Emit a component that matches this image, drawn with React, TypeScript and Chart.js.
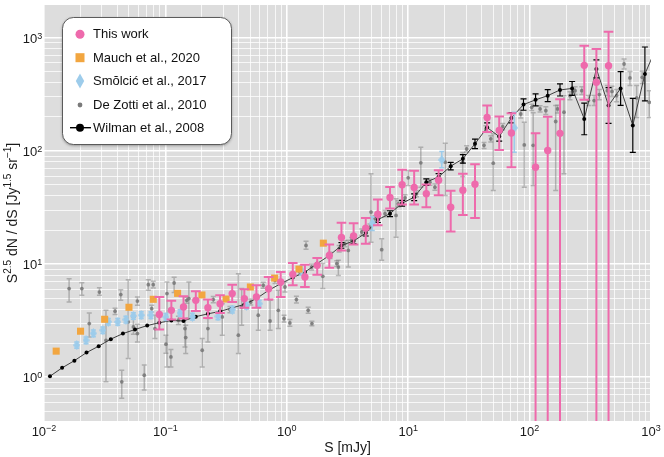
import React, { useRef, useEffect } from 'react';
import { Chart, registerables } from 'chart.js';
import type { ChartConfiguration, Plugin } from 'chart.js';

Chart.register(...registerables);

// axis ranges and ticks
const xMin = 0.01;
const xMax = 1000;
const yMin = 0.41;
const yMax = 1950;
const xDecades = [-2, -1, 0, 1, 2, 3];
const xTickExponents = ['\u22122', '\u22121', '0', '1', '2', '3'];
const yDecades = [0, 1, 2, 3];
const yTickExponents = ['0', '1', '2', '3'];
const minorSteps = [1, 2, 3, 4, 5, 6, 7, 8, 9];

// This work
const thisS = [0.0891, 0.112, 0.141, 0.178, 0.224, 0.282, 0.355, 0.447, 0.562, 0.708, 0.891, 1.12, 1.41, 1.78, 2.24, 2.82, 3.55, 4.47, 5.62, 7.08, 8.91, 11.2, 14.1, 17.8, 22.4, 28.2, 35.5, 44.7, 56.2, 70.8, 112, 141, 178, 282, 355, 447];
const thisN = [3.58, 3.9, 4.17, 4.78, 4.12, 4.47, 5.48, 4.95, 5.11, 6.06, 6.94, 8.11, 7.68, 9.74, 11.9, 17.2, 17.7, 20.8, 27.6, 38.8, 50.2, 47.5, 41.8, 55.1, 31.8, 45.0, 50.8, 198, 152, 144, 71.8, 101, 143, 571, 404, 567];
const thisLo = [2.64, 3.23, 3.3, 3.85, 3.34, 3.69, 4.62, 4.12, 4.12, 4.85, 5.11, 6.49, 6.27, 8.06, 9.29, 13.2, 14.9, 15.1, 22.0, 31.0, 33.6, 33.6, 31.8, 40.6, 19.4, 27.1, 25.5, 147, 102, 71.8, 0.01, 0.01, 0.01, 284, 0.01, 0.01];
const thisHi = [5.11, 4.75, 5.19, 5.74, 4.85, 5.29, 6.58, 5.98, 6.49, 7.68, 8.5, 10.2, 9.88, 11.3, 14.9, 23.2, 23.0, 25.5, 37.2, 48.0, 68.1, 66.7, 50.5, 67.6, 44.5, 62.8, 76.3, 252, 202, 215, 143, 201, 286, 851, 796, 1132];

// Mauch et al., 2020
const mauchS = [0.0126, 0.02, 0.0316, 0.0501, 0.0794, 0.126, 0.2, 0.316, 0.501, 0.794, 1.26, 2.0];
const mauchN = [1.7, 2.55, 3.25, 4.15, 4.88, 5.51, 5.33, 4.91, 6.27, 7.52, 9.03, 15.3];

// Smolcic et al., 2017
const smolS = [0.0186, 0.0222, 0.0255, 0.0305, 0.0339, 0.0405, 0.0473, 0.0545, 0.0632, 0.076, 0.101, 0.132, 0.167, 0.271, 0.356, 0.466, 0.593, 1.32, 5.06, 18.9, 74.8];
const smolN = [1.92, 2.12, 2.44, 2.6, 3.09, 3.08, 3.23, 3.48, 3.53, 3.53, 3.41, 3.69, 3.43, 3.45, 3.96, 4.28, 4.47, 8.8, 23.0, 83.4, 160];
const smolLo = [1.8, 1.98, 2.28, 2.43, 2.89, 2.88, 3.02, 3.25, 3.3, 3.3, 3.19, 3.45, 3.21, 3.22, 3.7, 4.0, 4.18, 8.0, 19.8, 71.0, 97.5];
const smolHi = [2.05, 2.27, 2.61, 2.78, 3.31, 3.3, 3.46, 3.72, 3.78, 3.78, 3.65, 3.95, 3.67, 3.69, 4.24, 4.58, 4.78, 9.7, 26.0, 98.8, 220];

// De Zotti et al., 2010
const dzS = [0.0161, 0.0205, 0.0286, 0.0236, 0.0324, 0.0429, 0.0385, 0.0494, 0.0437, 0.0545,
  0.0588, 0.0588, 0.067, 0.0723, 0.0794, 0.0771, 0.082, 0.103, 0.101, 0.111,
  0.118, 0.128, 0.147, 0.201, 0.145, 0.156, 0.224, 0.294, 0.399, 0.425,
  0.582, 0.728, 0.851, 0.949, 1.06, 1.2, 1.44, 1.98, 2.66, 3.21,
  0.966, 4.94, 6.05, 7.94, 10.0, 12.7, 20.2, 28.1,
  42.1, 43.7, 47.9, 50.2, 60.0, 84.5, 90.4, 104, 122, 136,
  164, 170, 192, 215, 237, 269, 305, 340, 375, 437,
  477, 521, 600, 671, 762, 847, 968,
  2.7, 3.01, 3.43, 4.14, 4.84, 5.33, 6.44, 8.28, 9.42, 11.7, 15.1, 16.6, 30.3,
  0.64, 0.8, 1.28, 1.6, 2.27, 2.58,
  0.15, 0.248, 0.34, 0.505, 1.5, 1.61, 107];
const dzN = [6.07, 6.07, 5.66, 2.98, 2.12, 5.37, 3.83, 3.08, 0.91, 2.78,
  2.43, 4.71, 1.04, 6.58, 6.58, 4.04, 2.69, 5.48, 1.96, 1.51,
  6.8, 3.19, 2.24, 1.73, 2.69, 4.95, 2.69, 3.41, 2.35, 4.17,
  3.53, 3.14, 3.9, 3.3, 3.02, 4.85, 14.6, 7.79, 9.41, 13.2,
  6.27, 28.8, 13.4, 26.9, 57.9, 78.5, 79.5, 79.5,
  112, 157, 128, 77.9, 164, 212, 113, 243, 235, 227,
  182, 235, 220, 308, 341, 341, 279, 279, 315, 341,
  336, 308, 587, 442, 294, 447, 269,
  13.7, 15.1, 16.2, 19.2, 21.2, 25.2, 27.9, 34.1, 38.5, 41.8, 52.9, 47.8, 104,
  6.49, 7.18, 8.5, 9.41, 11.9, 10.1,
  4.78, 4.85, 3.96, 4.62, 3.9, 2.98, 112];
const dzLo = [4.62, 5.29, 5.29, 2.27, 0.91, 4.78, 3.58, 1.46, 0.65, 2.4,
  2.05, 4.32, 0.77, 5.86, 6.15, 3.77, 2.2, 1.23, 1.63, 1.23,
  5.62, 2.93, 1.62, 1.23, 1.85, 3.32, 2.05, 2.35, 1.62, 2.88,
  2.6, 2.6, 2.69, 3.08, 2.82, 4.53, 13.5, 6.07, 7.94, 9.41,
  5.67, 15.6, 10.8, 17.3, 49.5, 47.8, 40.4, 59.4,
  105, 147, 120, 44.7, 154, 196, 47.8, 228, 221, 210,
  44.7, 217, 62.8, 284, 315, 315, 252, 252, 284, 308,
  303, 272, 531, 378, 198, 395, 198,
  12.8, 14.2, 15.2, 18.0, 19.9, 23.6, 26.2, 32.0, 36.2, 39.3, 49.7, 44.9, 98,
  6.1, 6.75, 8.0, 8.85, 11.2, 9.5,
  4.5, 4.56, 3.72, 4.34, 3.67, 2.85, 49.5];
const dzHi = [7.43, 6.85, 6.19, 3.69, 3.9, 5.94, 4.07, 7.28, 1.15, 3.39,
  2.94, 5.11, 1.28, 7.28, 7.04, 4.32, 3.53, 6.94, 2.35, 1.76,
  7.63, 3.45, 2.88, 2.2, 3.3, 6.94, 3.3, 4.47, 8.23, 6.07,
  4.32, 4.78, 5.86, 3.53, 3.23, 5.19, 15.9, 10.1, 10.8, 16.2,
  6.93, 62.8, 16.7, 37.8, 67.1, 108, 117, 96.8,
  119, 167, 136, 142, 175, 230, 179, 259, 251, 246,
  252, 254, 308, 334, 370, 370, 309, 309, 349, 378,
  373, 349, 650, 505, 378, 506, 341,
  14.6, 16.1, 17.2, 20.4, 22.6, 26.8, 29.7, 36.3, 41.0, 44.5, 56.3, 50.9, 111,
  6.9, 7.64, 9.0, 10.0, 12.7, 10.7,
  5.1, 5.16, 4.21, 4.91, 4.15, 3.12, 218];

// Wilman et al., 2008
const wilS = [0.0112, 0.0141, 0.0178, 0.0224, 0.0282, 0.0355, 0.0447, 0.0562, 0.0708, 0.0891,
  0.112, 0.141, 0.178, 0.224, 0.282, 0.355, 0.447, 0.562, 0.708, 0.891,
  1.12, 1.41, 1.78, 2.24, 2.82, 3.55, 4.47, 5.62, 7.08, 8.91,
  11.2, 14.1, 17.8, 22.4, 28.2, 35.5, 44.7, 56.2, 70.8, 89.1,
  112, 141, 178, 224, 282, 355, 447, 562, 708, 891, 1122];
const wilN = [1.02, 1.21, 1.4, 1.65, 1.88, 2.17, 2.43, 2.64, 2.86, 3.03,
  3.17, 3.14, 3.43, 3.63, 3.82, 4.1, 4.4, 4.95, 5.86, 6.71,
  7.59, 8.5, 10.1, 11.9, 14.6, 16.0, 18.8, 24.7, 27.9, 34.5,
  39.0, 53, 59, 73.3, 85.1, 115.6, 161, 134, 196, 257,
  283, 308, 346, 357, 192, 531, 252, 357, 168, 479, 850];
const wilLo = [null, null, null, null, null, null, null, null, null, null,
  null, null, null, null, null, null, null, null, null, null,
  null, null, null, null, 13.8, 15.1, 17.7, 23.3, 26.3, 32.5,
  36.4, 49.5, 55.1, 67.9, 78.1, 105, 146, 122, 177, 229,
  250, 273, 306, 310, 139, 443, 175, 253, 97, 277, 567];
const wilHi = [null, null, null, null, null, null, null, null, null, null,
  null, null, null, null, null, null, null, null, null, null,
  null, null, null, null, 15.5, 17.0, 19.9, 26.2, 29.6, 36.6,
  41.7, 56.7, 63.1, 79.2, 92.8, 127, 177, 147, 218, 288,
  320, 348, 391, 411, 265, 637, 363, 503, 291, 829, 1275];

const PINK = '#EE6AAC';
const ORANGE = '#F2A640';
const BLUE = '#9DCCEB';
const GREY = 'rgba(112,112,112,0.8)';
const FONT = '"Liberation Sans", Arial, sans-serif';

type Pt = { x: number; y: number; lo: number | null; hi: number | null };

const toPoints = (s: number[], n: number[], lo?: (number | null)[], hi?: (number | null)[]): Pt[] =>
  s.map((x, i) => ({ x, y: n[i], lo: lo ? lo[i] : null, hi: hi ? hi[i] : null }));

const isDecade = (v: number) => {
  const l = Math.log10(v);
  return Math.abs(l - Math.round(l)) < 1e-6;
};

const logTicks = (min: number, max: number) => {
  const ticks: { value: number; major: boolean }[] = [];
  for (let e = Math.floor(Math.log10(min)); e <= Math.floor(Math.log10(max)); e++) {
    for (const m of minorSteps) {
      const v = m * Math.pow(10, e);
      if (v >= min * 0.9999 && v <= max * 1.0001) ticks.push({ value: v, major: m === 1 });
    }
  }
  return ticks;
};

const diamond = (w: number, h: number, color: string) => {
  const c = document.createElement('canvas');
  c.width = w;
  c.height = h;
  const g = c.getContext('2d')!;
  g.fillStyle = color;
  g.beginPath();
  g.moveTo(w / 2, 0);
  g.lineTo(w, h / 2);
  g.lineTo(w / 2, h);
  g.lineTo(0, h / 2);
  g.closePath();
  g.fill();
  return c;
};

// grey panel behind the plot
const panel: Plugin = {
  id: 'panel',
  beforeDraw(chart) {
    const { ctx, chartArea: a } = chart;
    ctx.save();
    ctx.fillStyle = '#DDDDDD';
    ctx.fillRect(a.left, a.top, a.right - a.left, a.bottom - a.top);
    ctx.restore();
  },
};

// vertical error bars with caps, drawn just under each dataset
const errorBars: Plugin = {
  id: 'errorBars',
  beforeDatasetDraw(chart, args) {
    const ds: any = chart.data.datasets[args.index];
    const eb = ds.errorBar;
    if (!eb) return;
    const { ctx, chartArea: a } = chart;
    const ys = chart.scales.y;
    ctx.save();
    ctx.beginPath();
    ctx.rect(a.left, a.top, a.right - a.left, a.bottom - a.top);
    ctx.clip();
    ctx.strokeStyle = eb.color;
    ctx.lineWidth = eb.width;
    args.meta.data.forEach((el: any, i: number) => {
      const p = ds.data[i] as Pt;
      if (p.lo == null || p.hi == null) return;
      const x = el.x;
      const y0 = ys.getPixelForValue(p.lo);
      const y1 = ys.getPixelForValue(p.hi);
      ctx.beginPath();
      ctx.moveTo(x, y0);
      ctx.lineTo(x, y1);
      ctx.moveTo(x - eb.cap, y0);
      ctx.lineTo(x + eb.cap, y0);
      ctx.moveTo(x - eb.cap, y1);
      ctx.lineTo(x + eb.cap, y1);
      ctx.stroke();
    });
    ctx.restore();
  },
};

// draws text runs, superscripts raised, starting at x on baseline y
const drawRuns = (ctx: CanvasRenderingContext2D, runs: [string, boolean][], x: number, y: number,
  size: number, supSize: number, raise: number, measureOnly = false) => {
  let cx = x;
  for (const [t, sup] of runs) {
    ctx.font = `${sup ? supSize : size}px ${FONT}`;
    if (!measureOnly) ctx.fillText(t, cx, sup ? y - raise : y);
    cx += ctx.measureText(t).width;
  }
  return cx - x;
};

const axisText: Plugin = {
  id: 'axisText',
  afterDraw(chart) {
    const { ctx, chartArea: a } = chart;
    const xs = chart.scales.x;
    const ys = chart.scales.y;
    ctx.save();
    ctx.fillStyle = '#1a1a1a';
    ctx.textBaseline = 'alphabetic';
    ctx.textAlign = 'left';

    xDecades.forEach((e, i) => {
      const px = xs.getPixelForValue(Math.pow(10, e));
      const runs: [string, boolean][] = [['10', false], [xTickExponents[i], true]];
      const w = drawRuns(ctx, runs, 0, 0, 13, 9, 4.6, true);
      drawRuns(ctx, runs, px - w / 2, a.bottom + 15, 13, 9, 4.6);
    });
    yDecades.forEach((e, i) => {
      const py = ys.getPixelForValue(Math.pow(10, e));
      const runs: [string, boolean][] = [['10', false], [yTickExponents[i], true]];
      const w = drawRuns(ctx, runs, 0, 0, 13, 9, 4.6, true);
      drawRuns(ctx, runs, a.left - 1.7 - w, py + 5.3, 13, 9, 4.6);
    });

    // x title
    ctx.font = `14px ${FONT}`;
    ctx.textAlign = 'center';
    ctx.fillText('S [mJy]', (a.left + a.right) / 2, 452);
    ctx.textAlign = 'left';

    // y title
    const yRuns: [string, boolean][] = [
      ['S', false], ['2.5', true], [' dN / dS [Jy', false], ['1.5', true],
      [' sr', false], ['\u22121', true], [']', false],
    ];
    ctx.translate(16.5, (a.top + a.bottom) / 2);
    ctx.rotate(-Math.PI / 2);
    const tw = drawRuns(ctx, yRuns, 0, 0, 14, 10, 5.5, true);
    drawRuns(ctx, yRuns, -tw / 2, 0, 14, 10, 5.5);
    ctx.restore();
  },
};

const legendBox: Plugin = {
  id: 'legendBox',
  afterDraw(chart) {
    const { ctx } = chart;
    ctx.save();
    ctx.shadowColor = 'rgba(0,0,0,0.4)';
    ctx.shadowBlur = 3;
    ctx.shadowOffsetY = 1;
    ctx.beginPath();
    ctx.roundRect(62.5, 17.5, 169, 127, 11);
    ctx.fillStyle = '#ffffff';
    ctx.fill();
    ctx.shadowColor = 'transparent';
    ctx.strokeStyle = '#4d4d4d';
    ctx.lineWidth = 0.9;
    ctx.stroke();

    const mx = 80;
    const rows = [34.3, 57.7, 81, 105, 127.7];
    const labels = ['This work', 'Mauch et al., 2020', 'Sm\u014Flci\u0107 et al., 2017', 'De Zotti et al., 2010', 'Wilman et al., 2008'];

    ctx.fillStyle = PINK;
    ctx.beginPath();
    ctx.arc(mx, rows[0], 4.5, 0, Math.PI * 2);
    ctx.fill();

    ctx.fillStyle = ORANGE;
    ctx.fillRect(mx - 4.5, rows[1] - 4.5, 9, 9);

    ctx.fillStyle = BLUE;
    ctx.beginPath();
    ctx.moveTo(mx, rows[2] - 7.5);
    ctx.lineTo(mx + 4.2, rows[2]);
    ctx.lineTo(mx, rows[2] + 7.5);
    ctx.lineTo(mx - 4.2, rows[2]);
    ctx.closePath();
    ctx.fill();

    ctx.fillStyle = '#7a7a7a';
    ctx.beginPath();
    ctx.arc(mx, rows[3], 2.4, 0, Math.PI * 2);
    ctx.fill();

    ctx.strokeStyle = '#000';
    ctx.lineWidth = 1.4;
    ctx.beginPath();
    ctx.moveTo(mx - 10, rows[4]);
    ctx.lineTo(mx + 11, rows[4]);
    ctx.stroke();
    ctx.fillStyle = '#000';
    ctx.beginPath();
    ctx.arc(mx, rows[4], 4, 0, Math.PI * 2);
    ctx.fill();

    ctx.fillStyle = '#111';
    ctx.font = `13px ${FONT}`;
    ctx.textBaseline = 'middle';
    labels.forEach((t, i) => ctx.fillText(t, 93, rows[i] + 0.5));
    ctx.restore();
  },
};

const gridOpts = {
  color: '#ffffff',
  lineWidth: (c: any) => (c.tick && isDecade(c.tick.value) ? 1.6 : 0.75),
  drawTicks: false,
};

const App: React.FC = () => {
  const canvasRef = useRef<HTMLCanvasElement>(null);
  const chartRef = useRef<Chart | null>(null);

  useEffect(() => {
    if (!canvasRef.current) return;
    if (chartRef.current) chartRef.current.destroy();

    const config: ChartConfiguration<'scatter'> = {
      type: 'scatter',
      data: {
        datasets: [
          {
            label: 'This work',
            data: toPoints(thisS, thisN, thisLo, thisHi),
            pointStyle: 'circle',
            pointRadius: 3.7,
            pointBackgroundColor: PINK,
            pointBorderWidth: 0,
            errorBar: { color: PINK, width: 2, cap: 4.8 },
          } as any,
          {
            label: 'Mauch et al., 2020',
            data: toPoints(mauchS, mauchN),
            pointStyle: 'rect',
            pointRadius: 5,
            pointBackgroundColor: ORANGE,
            pointBorderWidth: 0,
          },
          {
            label: 'Smolcic et al., 2017',
            data: toPoints(smolS, smolN, smolLo, smolHi),
            pointStyle: diamond(7, 10, BLUE),
            pointRadius: 4,
            pointBorderWidth: 0,
            errorBar: { color: BLUE, width: 1.5, cap: 2.5 },
          } as any,
          {
            label: 'Wilman et al., 2008',
            data: toPoints(wilS, wilN, wilLo, wilHi),
            showLine: true,
            borderColor: '#2e2e2e',
            borderWidth: 0.9,
            pointRadius: 2,
            pointBackgroundColor: '#000',
            pointBorderWidth: 0,
            errorBar: { color: '#000', width: 1.2, cap: 3 },
          } as any,
          {
            label: 'De Zotti et al., 2010',
            data: toPoints(dzS, dzN, dzLo, dzHi),
            pointRadius: 1.9,
            pointBackgroundColor: GREY,
            pointBorderWidth: 0,
            errorBar: { color: 'rgba(125,125,125,0.5)', width: 1.5, cap: 2.5 },
          } as any,
        ],
      },
      options: {
        animation: false,
        responsive: false,
        events: [],
        layout: { padding: { left: 0, right: 13, top: 4, bottom: 0 } },
        plugins: {
          legend: { display: false },
          tooltip: { enabled: false },
        },
        scales: {
          x: {
            type: 'logarithmic',
            min: xMin,
            max: xMax,
            afterBuildTicks: (s: any) => { s.ticks = logTicks(xMin, xMax); },
            afterFit: (s: any) => { s.height = 36; },
            ticks: { display: false },
            grid: gridOpts as any,
            border: { display: false },
          },
          y: {
            type: 'logarithmic',
            min: yMin,
            max: yMax,
            afterBuildTicks: (s: any) => { s.ticks = logTicks(yMin, yMax); },
            afterFit: (s: any) => { s.width = 44; },
            ticks: { display: false },
            grid: gridOpts as any,
            border: { display: false },
          },
        },
      },
      plugins: [panel, errorBars, axisText, legendBox],
    };

    chartRef.current = new Chart(canvasRef.current, config);

    return () => {
      if (chartRef.current) {
        chartRef.current.destroy();
        chartRef.current = null;
      }
    };
  }, []);

  return (
    <div style={{ position: 'fixed', left: 0, top: 0, width: 664, height: 457, background: '#fff' }}>
      <canvas ref={canvasRef} width={664} height={457} style={{ width: 664, height: 457 }} />
    </div>
  );
};

export default App;
